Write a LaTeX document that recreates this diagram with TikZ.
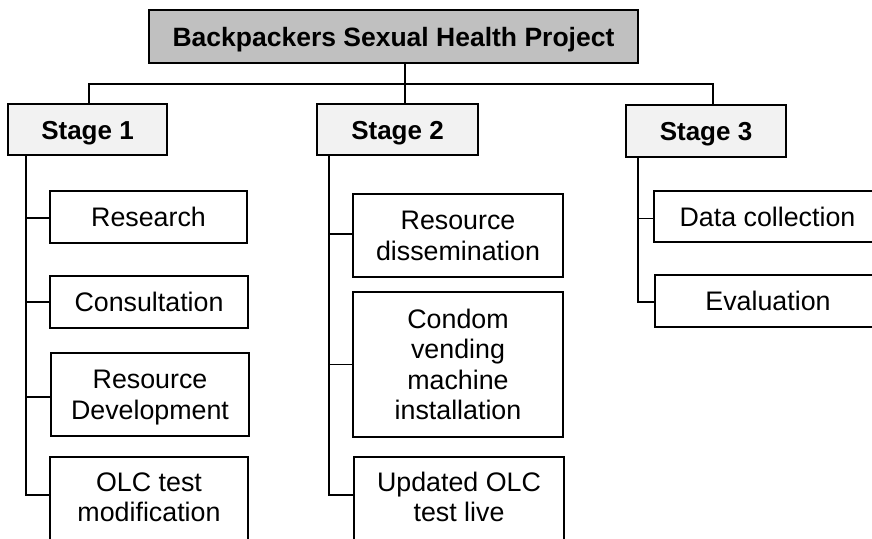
\documentclass[tikz,border=0pt]{standalone}
\usepackage{fontspec}
\setmainfont{Liberation Sans}
\definecolor{titlefill}{RGB}{192,192,192}
\definecolor{stagefill}{RGB}{242,242,242}
\begin{document}
\begin{tikzpicture}[x=1pt,y=-1pt,
  box/.style={draw=black, line width=1.7pt, inner sep=0pt, align=center,
    font=\fontsize{26.8}{30.5}\selectfont, fill=white, text height=19.2pt, text depth=0pt},
  twolines/.style={text height=49.7pt},
  fourlines/.style={text height=110.7pt},
  titlebox/.style={box, fill=titlefill, font=\bfseries\fontsize{26.5}{30.5}\selectfont},
  stagebox/.style={box, fill=stagefill, font=\bfseries\fontsize{26}{30.5}\selectfont},
  link/.style={draw=black, line width=1.7pt}]
\useasboundingbox (0,0) rectangle (872,538);
\clip (0,0) rectangle (872,538);
\fill[white] (0,0) rectangle (872,538);

% title
\node[titlebox, minimum width=489pt, minimum height=53pt] (top) at (393.5,36.5) {Backpackers Sexual Health Project};

% stages
\node[stagebox, minimum width=159pt, minimum height=51pt] (s1) at (87.5,129.5) {Stage 1};
\node[stagebox, minimum width=161pt, minimum height=51pt] (s2) at (397.5,129.5) {Stage 2};
\node[stagebox, minimum width=160pt, minimum height=52pt] (s3) at (706,131) {Stage 3};

\coordinate (d1) at (89,104);
\coordinate (d2) at (405,104);
\coordinate (d3) at (713,105);
\coordinate (bus3) at (713,84);

\draw[link] (top.south -| d2) -- (d2);
\draw[link] (d1) |- (bus3) -- (d3);

% stage 1 children
\node[box, minimum width=197pt, minimum height=52pt] (c11) at (148.5,217) {Research};
\node[box, minimum width=198pt, minimum height=52pt] (c12) at (149,302) {Consultation};
\node[box, twolines, minimum width=198pt, minimum height=83pt] (c13) at (150,394.5) {Resource\\Development};
\node[box, twolines, text depth=10pt, minimum width=198pt, minimum height=90pt] (c14) at (149,502) {OLC test\\modification};

\coordinate (t1) at (26,155);
\draw[link] (t1) |- ([yshift=-1pt]c11.west);
\draw[link] (t1) |- (c12.west);
\draw[link] (t1) |- ([yshift=-2.5pt]c13.west);
\draw[link] (t1) |- ([yshift=7pt]c14.west);

% stage 2 children
\node[box, twolines, minimum width=210pt, minimum height=83pt] (c21) at (458,235.5) {Resource\\dissemination};
\node[box, fourlines, minimum width=210pt, minimum height=145pt] (c22) at (458,364.5) {Condom\\vending\\machine\\installation};
\node[box, twolines, text depth=10pt, minimum width=210pt, minimum height=90pt] (c23) at (459,502) {Updated OLC\\test live};

\coordinate (t2) at (329,155);
\draw[link] (t2) |- ([yshift=1.5pt]c21.west);
\draw[link] (t2) |- (c22.west);
\draw[link] (t2) |- ([yshift=7pt]c23.west);

% stage 3 children
\node[box, minimum width=227pt, minimum height=51pt] (c31) at (767.5,216.5) {Data collection};
\node[box, minimum width=226pt, minimum height=52pt] (c32) at (768,301) {Evaluation};

\coordinate (t3) at (638,157);
\draw[link] (t3) |- ([yshift=-2pt]c31.west);
\draw[link] (t3) |- ([yshift=-1pt]c32.west);
\end{tikzpicture}
\end{document}
